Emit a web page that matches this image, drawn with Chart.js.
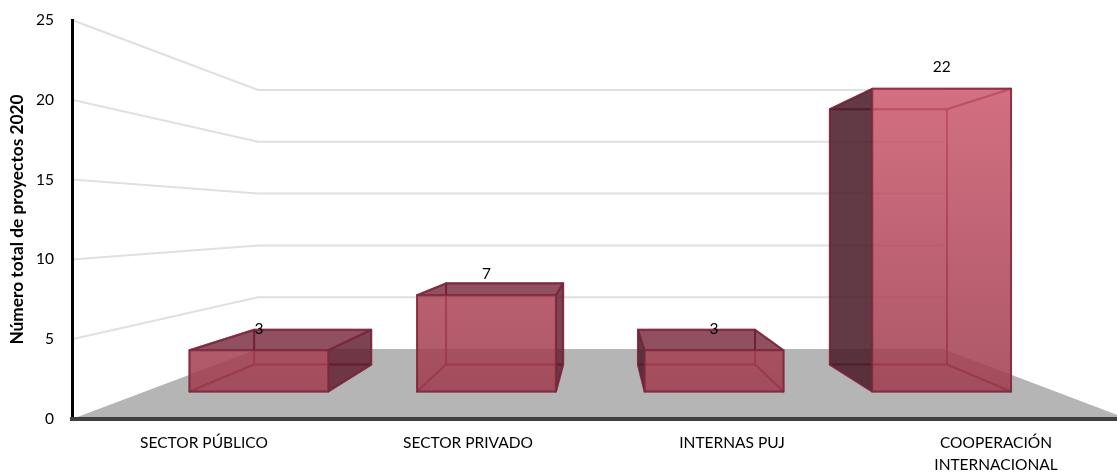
<!DOCTYPE html>
<html>
<head>
<meta charset="utf-8">
<style>
  html, body { margin: 0; padding: 0; background: #fff; overflow: hidden; }
  canvas { display: block; }
</style>
<script src="https://cdn.jsdelivr.net/npm/chart.js@4"></script>
</head>
<body>
<canvas id="chartProyectos" width="1140" height="472"></canvas>
<script>
const categories = ['SECTOR PÚBLICO', 'SECTOR PRIVADO', 'INTERNAS PUJ', ['COOPERACIÓN', 'INTERNACIONAL']];
const proyectos = [3, 7, 3, 22];
const yTicks = [0, 5, 10, 15, 20, 25];
const yTitle = 'Número total de proyectos 2020';

const FONT = 'Lato, Carlito, Calibri, sans-serif';
// how far each plane shrinks towards the middle of the plot
const K_BAR_FRONT = 0.862;
const K_BAR_BACK = 0.727;
const K_WALL = 0.649;

function frontColor(ctx, top, bottom) {
  const g = ctx.createLinearGradient(0, top, 0, bottom);
  g.addColorStop(0, 'rgba(206,90,111,0.8)');
  g.addColorStop(1, 'rgba(158,60,78,0.8)');
  return g;
}

const scene3d = {
  id: 'scene3d',
  beforeDatasetsDraw(chart) {
    const { ctx, chartArea: a, scales: { y } } = chart;
    const vx = (a.left + a.right) / 2 + 2, vy = (a.top + a.bottom) / 2;
    const px = (x, k) => vx + (x - vx) * k;
    const py = (v, k) => vy + (y.getPixelForValue(v) - vy) * k;

    // floor
    ctx.save();
    ctx.fillStyle = '#b5b5b5';
    ctx.beginPath();
    ctx.moveTo(a.left, a.bottom);
    ctx.lineTo(px(a.left, K_WALL), py(0, K_WALL));
    ctx.lineTo(px(a.right, K_WALL), py(0, K_WALL));
    ctx.lineTo(a.right, a.bottom);
    ctx.closePath();
    ctx.fill();

    // side wall and back wall grid
    ctx.strokeStyle = '#e0e0e0';
    ctx.lineWidth = 2;
    yTicks.forEach(v => {
      if (v === 0) return;
      ctx.beginPath();
      ctx.moveTo(a.left, y.getPixelForValue(v));
      ctx.lineTo(px(a.left, K_WALL), py(v, K_WALL));
      ctx.lineTo(px(a.right, K_WALL), py(v, K_WALL));
      ctx.stroke();
    });
    ctx.restore();
  },
  afterDatasetsDraw(chart) {
    const { ctx, chartArea: a, scales: { y } } = chart;
    const vx = (a.left + a.right) / 2 + 2, vy = (a.top + a.bottom) / 2;
    const px = (x, k) => vx + (x - vx) * k;
    const py = (v, k) => vy + (y.getPixelForValue(v) - vy) * k;

    chart.getDatasetMeta(0).data.forEach((bar, i) => {
      const v = proyectos[i];
      const x0 = bar.x - bar.width / 2, x1 = bar.x + bar.width / 2;
      const f = { l: px(x0, K_BAR_FRONT), r: px(x1, K_BAR_FRONT), t: py(v, K_BAR_FRONT), b: py(0, K_BAR_FRONT) };
      const k = { l: px(x0, K_BAR_BACK), r: px(x1, K_BAR_BACK), t: py(v, K_BAR_BACK), b: py(0, K_BAR_BACK) };
      const inner = 'rgba(165,60,80,0.3)';
      const edge = 'rgba(125,38,60,0.72)';

      const face = (pts, fill) => {
        ctx.beginPath();
        pts.forEach((p, j) => j ? ctx.lineTo(p[0], p[1]) : ctx.moveTo(p[0], p[1]));
        ctx.closePath();
        ctx.fillStyle = fill;
        ctx.fill();
        ctx.strokeStyle = edge;
        ctx.lineWidth = 2;
        ctx.lineJoin = 'round';
        ctx.stroke();
      };
      const back = [[k.l, k.t], [k.r, k.t], [k.r, k.b], [k.l, k.b]];
      const bottom = [[f.l, f.b], [f.r, f.b], [k.r, k.b], [k.l, k.b]];
      const top = [[f.l, f.t], [f.r, f.t], [k.r, k.t], [k.l, k.t]];
      const left = [[f.l, f.t], [k.l, k.t], [k.l, k.b], [f.l, f.b]];
      const right = [[f.r, f.t], [k.r, k.t], [k.r, k.b], [f.r, f.b]];

      ctx.save();
      face(back, inner);
      face(bottom, inner);
      // faces turned to the viewer come out dark, the ones seen from inside stay light
      const leftOut = k.l < f.l, rightOut = k.r > f.r, topOut = k.t < f.t;
      if (!leftOut) face(left, inner);
      if (!rightOut) face(right, inner);
      if (!topOut) face(top, inner);
      if (topOut) face(top, 'rgba(105,25,45,0.68)');
      if (leftOut) face(left, 'rgba(70,28,40,0.82)');
      if (rightOut) face(right, 'rgba(90,25,42,0.75)');
      face([[f.l, f.t], [f.r, f.t], [f.r, f.b], [f.l, f.b]], frontColor(ctx, py(22, K_BAR_FRONT), f.b));

      // value label
      ctx.fillStyle = '#000';
      ctx.font = '15.5px ' + FONT;
      ctx.textAlign = 'center';
      ctx.textBaseline = 'middle';
      ctx.fillText(String(v), (f.l + f.r) / 2, f.t - 21.5);
      ctx.restore();
    });
  }
};

new Chart(document.getElementById('chartProyectos').getContext('2d'), {
  type: 'bar',
  data: {
    labels: categories,
    datasets: [{
      label: yTitle,
      data: proyectos,
      backgroundColor: 'rgba(0,0,0,0)',
      categoryPercentage: 1,
      barPercentage: 0.61
    }]
  },
  plugins: [scene3d],
  options: {
    responsive: false,
    animation: false,
    layout: { padding: { top: 20, right: 12, left: 0, bottom: 0 } },
    plugins: { legend: { display: false }, tooltip: { enabled: false } },
    scales: {
      x: {
        grid: { display: false, drawTicks: false },
        border: { color: '#404040', width: 4, z: 2 },
        ticks: {
          color: '#000',
          font: { family: FONT, size: 15.5, lineHeight: 1.42 },
          padding: 13,
          maxRotation: 0,
          autoSkip: false
        },
        afterFit(scale) { scale.height = 53; }
      },
      y: {
        min: 0,
        max: 25,
        grid: { display: false, drawTicks: false },
        border: { color: '#000', width: 3, z: 1 },
        ticks: {
          stepSize: 5,
          color: '#000',
          font: { family: FONT, size: 15.5 },
          padding: 18
        },
        title: {
          display: true,
          text: yTitle,
          color: '#000',
          font: { family: FONT, size: 17.3, weight: 'bold' },
          padding: { top: 7, bottom: 0 }
        },
        afterFit(scale) {
          scale.width = 72;
          scale.paddingTop = 0;
          scale.paddingBottom = 0;
        }
      }
    }
  }
});
</script>
</body>
</html>
